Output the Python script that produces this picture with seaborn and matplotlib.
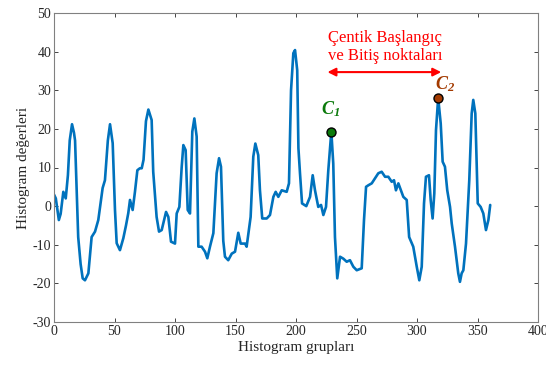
import matplotlib
matplotlib.use("Agg")
import matplotlib.pyplot as plt
import seaborn as sns
import pandas as pd

sns.set_theme(style="white")
plt.rcParams['font.family'] = ['Liberation Serif', 'DejaVu Serif']
plt.rcParams['mathtext.fontset'] = 'custom'
plt.rcParams['mathtext.it'] = 'Liberation Serif:italic'
plt.rcParams['mathtext.rm'] = 'Liberation Serif'
plt.rcParams['mathtext.bf'] = 'Liberation Serif:italic:bold'
plt.rcParams['axes.unicode_minus'] = False

group = [0, 1.5, 4, 5.5, 7.7, 9.7, 11.5, 13, 14.9, 16.5, 17.4, 20, 22, 23.7, 25.6, 28.4,
         31.1, 33.9, 36.6, 40.2, 42.1, 44.5, 46.3, 48.5, 50.4, 51.8, 54.5, 57.3, 59.5, 61.4,
         62.8, 65, 66.9, 68.9, 71, 72.5, 74, 76, 78, 80.7, 82, 84.8, 86.8, 89, 92.6, 94.5,
         96.7, 100, 101.4, 103.6, 105.5, 106.9, 108.8, 110.5, 112.4, 114.3, 116, 117.9,
         119.3, 122, 124.8, 126.7, 128.9, 131.7, 134.4, 136.4, 138, 139.9, 141.3, 144,
         146.9, 149.6, 152.3, 154.3, 157.9, 159.2, 162.5, 164.7, 166.4, 168.8, 170.2, 172.1,
         175.8, 178.5, 181.3, 183.2, 185.4, 188.2, 192.3, 194.2, 195.9, 197.8, 199.2, 201,
         202, 203.3, 205, 208.5, 211.6, 213.8, 215.7, 218.4, 220.7, 222.6, 224.8, 226.7,
         229.2, 230.8, 232.2, 234.1, 236.4, 239.1, 241.9, 244.6, 247.4, 250.2, 254.3, 256.2,
         257.9, 259.8, 262.6, 265.3, 268, 270.8, 273.6, 276.3, 279.1, 281, 282.6, 284.6,
         288.7, 291.5, 293.5, 296.9, 299.8, 301.9, 303.9, 305.8, 307.4, 309.9, 311.3, 312.9,
         314.3, 315.7, 317.5, 319.6, 321.2, 323.1, 325, 327.3, 328.7, 331.4, 334.1, 335.5,
         336.9, 338.3, 340.5, 343.2, 345.2, 346.5, 348.2, 350.2, 352.6, 354.8, 357, 359, 360.5]
value = [3.0, 2.0, -3.6, -2, 3.7, 2.0, 8, 17, 21.2, 19, 17, -8, -15, -18.7, -19.2, -17.4,
         -8, -6.6, -3.6, 4.7, 6.7, 17, 21.2, 16.3, -1, -9.6, -11.4, -8.3, -5, -1.8,
         1.6, -1, 3.7, 9.3, 9.8, 9.8, 12, 22, 25, 22.3, 8.9, -2.8, -6.6, -6.2, -1.5, -2.8,
         -9.2, -9.7, -1.9, -0.2, 10, 15.8, 14.5, -1, -1.9, 19.3, 22.7, 18,
         -10.5, -10.5, -11.8, -13.5, -10.5, -7, 8.5, 12.4, 10.2, -9, -13.1, -14,
         -12.3, -11.8, -6.9, -9.7, -9.7, -10.5, -2.8, 12.8, 16.2, 13.2, 4.1, -3.2,
         -3.2, -2.3, 2.4, 3.7, 2.4, 4.1, 3.7, 5.9, 30, 39.6, 40.4, 35.2,
         15, 8.5, 0.7, 0, 2.4, 8, 4.1, -0.2, 0.3, -2.3, -0.2, 9.3,
         19.3, 11, -8, -18.7, -13.1, -13.6, -14.4, -14, -15.7, -16.6, -16.1, -3.6,
         5, 5.4, 5.9, 7.2, 8.5, 8.9, 7.6, 7.6, 6.3, 6.7, 4.1, 5.9,
         2.4, 1.6, -8, -10.5, -15.7, -19.2, -15.7, 0.7, 7.6, 8, 1.6, -3.2,
         3.3, 19.7, 28, 21.4, 11.5, 10.2, 4.1, -0.2, -4.5, -10.5, -17.4, -19.6,
         -17.4, -16.6, -9.7, 6.7, 24, 27.5, 24, 0.7, -0.2, -1.9, -6.2, -3.6, 0.3]

point_names = ["C1", "C2"]
point_x = [229.2, 317.5]
point_y = [19.3, 28.0]

xticks = [0, 50, 100, 150, 200, 250, 300, 350, 400]
yticks = [-30, -20, -10, 0, 10, 20, 30, 40, 50]

df = pd.DataFrame({"x": group, "y": value})

fig = plt.figure(figsize=(5.46, 3.65), dpi=100)
ax = fig.add_axes([54/546, 1-322/365, (538-54)/546, (322-13)/365])

sns.lineplot(data=df, x="x", y="y", ax=ax, color="#0072BD", linewidth=1.9,
             sort=False, estimator=None)

ax.scatter([point_x[0]], [point_y[0]], s=42, color="#0B7A0B", edgecolor="black",
           linewidth=1.0, zorder=5)
ax.scatter([point_x[1]], [point_y[1]], s=42, color="#A33A00", edgecolor="black",
           linewidth=1.0, zorder=5)
ax.text(point_x[0] - 0.5, point_y[0] + 3.2, r"$\mathbf{C_{1}}$", color="#0B7A0B",
        fontsize=13, ha="center", va="bottom")
ax.text(point_x[1] + 5.5, point_y[1] + 1.0, r"$\mathbf{C_{2}}$", color="#A33A00",
        fontsize=13, ha="center", va="bottom")

ax.annotate("", xy=(226, 34.7), xytext=(320, 34.7),
            arrowprops=dict(arrowstyle="<|-|>", color="#FF0000", lw=1.5,
                            mutation_scale=12, shrinkA=0, shrinkB=0))
ax.text(273.5, 41.3, "Çentik Başlangıç\nve Bitiş noktaları", color="#FF0000",
        fontsize=12, ha="center", va="center", linespacing=1.15)

ax.set_xlim(0, 400)
ax.set_ylim(-30, 50)
ax.set_xticks(xticks)
ax.set_yticks(yticks)
ax.set_xlabel("Histogram grupları", fontsize=11, color="#262626", labelpad=2)
ax.set_ylabel("Histogram değerleri", fontsize=11, color="#262626", labelpad=2)
ax.tick_params(direction="in", length=3, width=0.6, colors="#262626", labelsize=10,
               top=True, right=True, bottom=True, left=True, pad=2)
for s in ax.spines.values():
    s.set_color("#808080")
    s.set_linewidth(0.8)

fig.savefig("out.png", dpi=100)
